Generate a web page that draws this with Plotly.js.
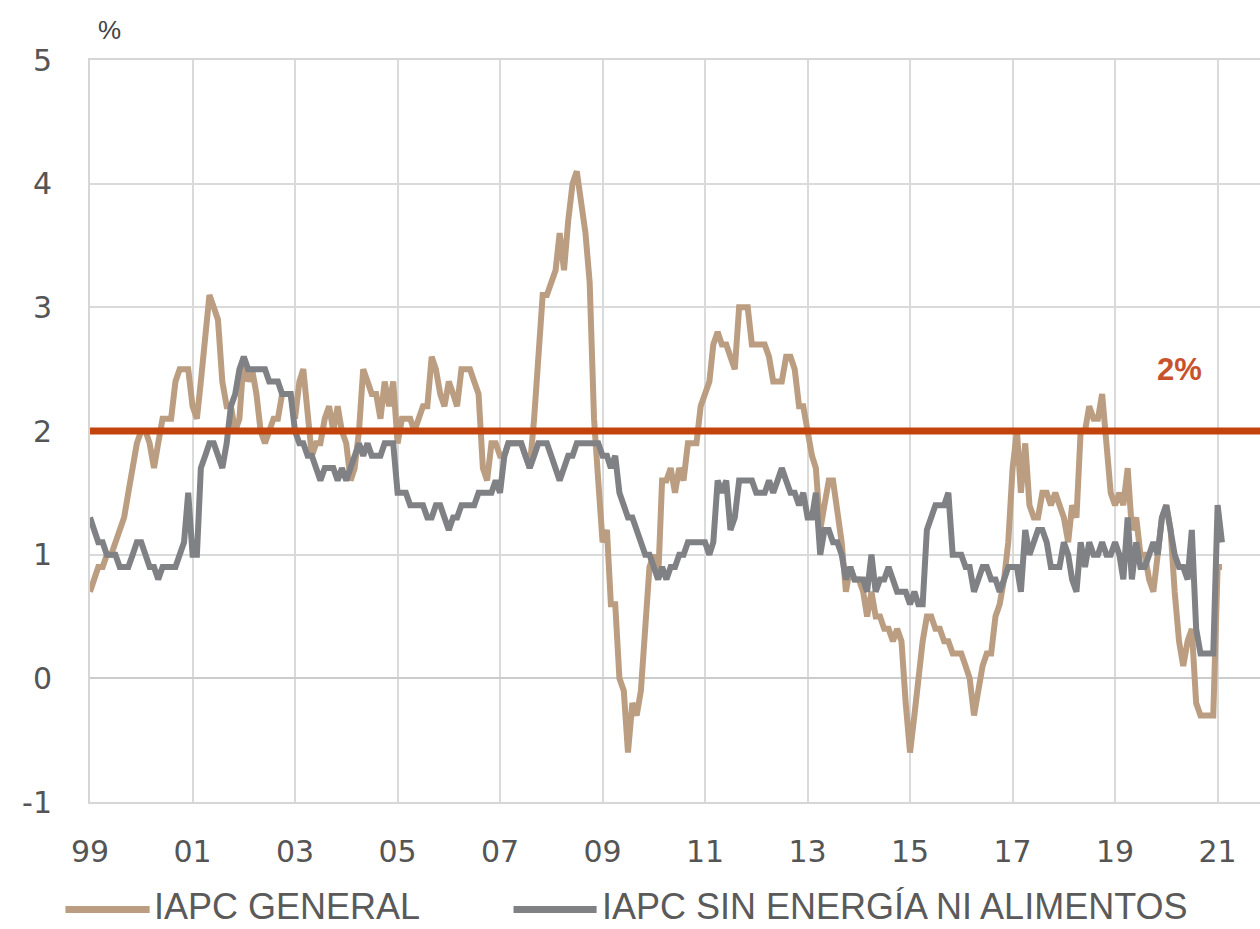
<!DOCTYPE html>
<html>
<head>
<meta charset="utf-8">
<script src="https://cdn.plot.ly/plotly-3.0.1.min.js"></script>
<style>
  html, body { margin: 0; padding: 0; background: #ffffff; }
  #chart { width: 1260px; height: 929px; }
</style>
</head>
<body>
<div id="chart"></div>
<script>
// ---- Data (annual rate, %, monthly from Jan 1999) ----
const startYear = 1999;

const iapcGeneral = [
  0.7, 0.8, 0.9, 0.9, 1.0, 1.0, 1.1, 1.2, 1.3, 1.5, 1.7, 1.9,   // 1999
  2.0, 2.0, 1.9, 1.7, 1.9, 2.1, 2.1, 2.1, 2.4, 2.5, 2.5, 2.5,   // 2000
  2.2, 2.1, 2.4, 2.8, 3.1, 3.0, 2.9, 2.4, 2.2, 2.2, 2.0, 2.1,   // 2001
  2.6, 2.4, 2.5, 2.3, 2.0, 1.9, 2.0, 2.1, 2.1, 2.3, 2.3, 2.3,   // 2002
  2.1, 2.4, 2.5, 2.1, 1.8, 1.9, 1.9, 2.1, 2.2, 2.0, 2.2, 2.0,   // 2003
  1.9, 1.6, 1.7, 2.0, 2.5, 2.4, 2.3, 2.3, 2.1, 2.4, 2.2, 2.4,   // 2004
  1.9, 2.1, 2.1, 2.1, 2.0, 2.1, 2.2, 2.2, 2.6, 2.5, 2.3, 2.2,   // 2005
  2.4, 2.3, 2.2, 2.5, 2.5, 2.5, 2.4, 2.3, 1.7, 1.6, 1.9, 1.9,   // 2006
  1.8, 1.8, 1.9, 1.9, 1.9, 1.9, 1.8, 1.7, 2.1, 2.6, 3.1, 3.1,   // 2007
  3.2, 3.3, 3.6, 3.3, 3.7, 4.0, 4.1, 3.8, 3.6, 3.2, 2.1, 1.6,   // 2008
  1.1, 1.2, 0.6, 0.6, 0.0, -0.1, -0.6, -0.2, -0.3, -0.1, 0.5, 0.9, // 2009
  1.0, 0.8, 1.6, 1.6, 1.7, 1.5, 1.7, 1.6, 1.9, 1.9, 1.9, 2.2,   // 2010
  2.3, 2.4, 2.7, 2.8, 2.7, 2.7, 2.6, 2.5, 3.0, 3.0, 3.0, 2.7,   // 2011
  2.7, 2.7, 2.7, 2.6, 2.4, 2.4, 2.4, 2.6, 2.6, 2.5, 2.2, 2.2,   // 2012
  2.0, 1.8, 1.7, 1.2, 1.4, 1.6, 1.6, 1.3, 1.1, 0.7, 0.9, 0.8,   // 2013
  0.8, 0.7, 0.5, 0.7, 0.5, 0.5, 0.4, 0.4, 0.3, 0.4, 0.3, -0.2,  // 2014
  -0.6, -0.3, 0.0, 0.3, 0.5, 0.5, 0.4, 0.4, 0.3, 0.3, 0.2, 0.2, // 2015
  0.2, 0.1, 0.0, -0.3, -0.1, 0.1, 0.2, 0.2, 0.5, 0.6, 0.8, 1.1, // 2016
  1.7, 2.0, 1.5, 1.9, 1.4, 1.3, 1.3, 1.5, 1.5, 1.4, 1.5, 1.4,   // 2017
  1.3, 1.1, 1.4, 1.3, 2.0, 2.0, 2.2, 2.1, 2.1, 2.3, 1.9, 1.5,   // 2018
  1.4, 1.5, 1.4, 1.7, 1.2, 1.3, 1.0, 1.0, 0.8, 0.7, 1.0, 1.3,   // 2019
  1.4, 1.2, 0.7, 0.3, 0.1, 0.3, 0.4, -0.2, -0.3, -0.3, -0.3, -0.3, // 2020
  0.9, 0.9                                                      // 2021
];

const iapcSubyacente = [
  1.3, 1.2, 1.1, 1.1, 1.0, 1.0, 1.0, 0.9, 0.9, 0.9, 1.0, 1.1,   // 1999
  1.1, 1.0, 0.9, 0.9, 0.8, 0.9, 0.9, 0.9, 0.9, 1.0, 1.1, 1.5,   // 2000
  1.0, 1.0, 1.7, 1.8, 1.9, 1.9, 1.8, 1.7, 1.9, 2.2, 2.3, 2.5,   // 2001
  2.6, 2.5, 2.5, 2.5, 2.5, 2.5, 2.4, 2.4, 2.4, 2.3, 2.3, 2.3,   // 2002
  2.0, 1.9, 1.9, 1.8, 1.8, 1.7, 1.6, 1.7, 1.7, 1.7, 1.6, 1.7,   // 2003
  1.6, 1.7, 1.8, 1.9, 1.8, 1.9, 1.8, 1.8, 1.8, 1.9, 1.9, 1.9,   // 2004
  1.5, 1.5, 1.5, 1.4, 1.4, 1.4, 1.4, 1.3, 1.3, 1.4, 1.4, 1.3,   // 2005
  1.2, 1.3, 1.3, 1.4, 1.4, 1.4, 1.4, 1.5, 1.5, 1.5, 1.5, 1.6,   // 2006
  1.5, 1.8, 1.9, 1.9, 1.9, 1.9, 1.8, 1.7, 1.8, 1.9, 1.9, 1.9,   // 2007
  1.8, 1.7, 1.6, 1.7, 1.8, 1.8, 1.9, 1.9, 1.9, 1.9, 1.9, 1.9,   // 2008
  1.8, 1.8, 1.7, 1.8, 1.5, 1.4, 1.3, 1.3, 1.2, 1.1, 1.0, 1.0,   // 2009
  0.9, 0.8, 0.9, 0.8, 0.9, 0.9, 1.0, 1.0, 1.1, 1.1, 1.1, 1.1,   // 2010
  1.1, 1.0, 1.1, 1.6, 1.5, 1.6, 1.2, 1.3, 1.6, 1.6, 1.6, 1.6,   // 2011
  1.5, 1.5, 1.5, 1.6, 1.5, 1.6, 1.7, 1.6, 1.5, 1.5, 1.4, 1.5,   // 2012
  1.3, 1.3, 1.5, 1.0, 1.2, 1.2, 1.1, 1.1, 1.0, 0.8, 0.9, 0.8,   // 2013
  0.8, 0.8, 0.7, 1.0, 0.7, 0.8, 0.8, 0.9, 0.8, 0.7, 0.7, 0.7,   // 2014
  0.6, 0.7, 0.6, 0.6, 1.2, 1.3, 1.4, 1.4, 1.4, 1.5, 1.0, 1.0,   // 2015
  1.0, 0.9, 0.9, 0.7, 0.8, 0.9, 0.9, 0.8, 0.8, 0.7, 0.8, 0.9,   // 2016
  0.9, 0.9, 0.7, 1.2, 1.0, 1.1, 1.2, 1.2, 1.1, 0.9, 0.9, 0.9,   // 2017
  1.1, 1.0, 0.8, 0.7, 1.1, 0.9, 1.1, 1.0, 1.0, 1.1, 1.0, 1.0,   // 2018
  1.1, 1.0, 0.8, 1.3, 0.8, 1.1, 0.9, 0.9, 1.0, 1.1, 1.0, 1.3,   // 2019
  1.4, 1.2, 1.0, 0.9, 0.9, 0.8, 1.2, 0.4, 0.2, 0.2, 0.2, 0.2,   // 2020
  1.4, 1.1                                                      // 2021
];

const targetValue = 2;
const targetLabel = "2%";
const seriesNames = ["IAPC GENERAL", "IAPC SIN ENERGÍA NI ALIMENTOS"];
const yTickValues = [-1, 0, 1, 2, 3, 4, 5];
const yTickLabels = ["-1", "0", "1", "2", "3", "4", "5"];
const xRange = ["1999-01-01", "2021-10-30"];

// month labels for the series
function monthDates(n) {
  const out = [];
  for (let i = 0; i < n; i++) {
    const y = startYear + Math.floor(i / 12);
    const m = (i % 12) + 1;
    out.push(y + "-" + (m < 10 ? "0" + m : m) + "-01");
  }
  return out;
}
const dates = monthDates(iapcGeneral.length);

const colTan = "#bb9e81";
const colGray = "#808185";
const colRed = "#c2440c";

const traces = [
  { x: dates, y: iapcGeneral, type: "scatter", mode: "lines", name: seriesNames[0],
    line: { color: colTan, width: 6 } },
  { x: dates, y: iapcSubyacente, type: "scatter", mode: "lines", name: seriesNames[1],
    line: { color: colGray, width: 6 } }
];

const tickFont = { family: "DejaVu Sans, Arial, sans-serif", size: 30, color: "#555555" };
const legFont = { family: "Liberation Sans, Arial, sans-serif", size: 36, color: "#5a5a5a" };
const legY = -0.141;

const layout = {
  width: 1260, height: 929,
  margin: { l: 90, r: 0, t: 60, b: 127 },
  paper_bgcolor: "#ffffff", plot_bgcolor: "#ffffff",
  showlegend: false,
  hovermode: false,
  xaxis: {
    type: "date", range: xRange,
    tick0: "1999-01-01", dtick: "M24", tickformat: "%y",
    showgrid: true, gridcolor: "#dadada", gridwidth: 2,
    showline: true, linecolor: "#d6d6d6", linewidth: 2, mirror: true,
    ticks: "", ticklabelstandoff: 22,
    tickfont: tickFont, zeroline: false
  },
  yaxis: {
    range: [-1, 5], tickmode: "array", tickvals: yTickValues, ticktext: yTickLabels,
    showgrid: true, gridcolor: "#dadada", gridwidth: 2,
    zeroline: true, zerolinecolor: "#cccccc", zerolinewidth: 2,
    showline: true, linecolor: "#d6d6d6", linewidth: 2,
    ticks: "", ticklabelstandoff: 30,
    tickfont: tickFont
  },
  shapes: [
    { type: "line", xref: "paper", x0: 0, x1: 1, yref: "y", y0: targetValue, y1: targetValue,
      line: { color: colRed, width: 7 }, layer: "above" },
    { type: "line", xref: "paper", yref: "paper", x0: -0.021, x1: 0.051, y0: legY - 0.004, y1: legY - 0.004,
      line: { color: colTan, width: 7 } },
    { type: "line", xref: "paper", yref: "paper", x0: 0.362, x1: 0.433, y0: legY - 0.004, y1: legY - 0.004,
      line: { color: colGray, width: 7 } }
  ],
  annotations: [
    { xref: "paper", yref: "paper", x: 0.005, y: 1.018, xanchor: "left", yanchor: "bottom",
      text: "%", showarrow: false,
      font: { family: "Liberation Sans, Arial, sans-serif", size: 26, color: "#444444" } },
    { xref: "x", yref: "y", x: "2020-04-01", y: 2.5, xanchor: "center", yanchor: "middle",
      text: targetLabel, showarrow: false,
      font: { family: "Liberation Sans, Arial, sans-serif", size: 31, color: "#c8522c", weight: "bold" } },
    { xref: "paper", yref: "paper", x: 0.053, y: legY, xanchor: "left", yanchor: "middle",
      text: seriesNames[0], showarrow: false, font: legFont },
    { xref: "paper", yref: "paper", x: 0.436, y: legY, xanchor: "left", yanchor: "middle",
      text: seriesNames[1], showarrow: false, font: legFont }
  ]
};

Plotly.newPlot("chart", traces, layout, { staticPlot: true, displayModeBar: false });
</script>
</body>
</html>
